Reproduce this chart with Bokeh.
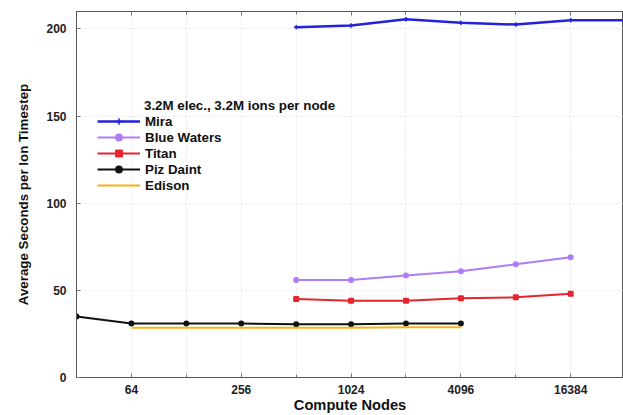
from bokeh.plotting import figure
from bokeh.models import (FixedTicker, LogAxis, Legend, LegendItem, Label, Range1d)
from bokeh.embed import file_html
from bokeh.resources import INLINE

# ---- data ----
mira_nodes = [512, 1024, 2048, 4096, 8192, 16384, 32768]
mira_secs = [201, 202, 205.5, 203.5, 202.5, 205, 205]
bw_nodes = [512, 1024, 2048, 4096, 8192, 16384]
bw_secs = [56, 56, 58.5, 61, 65, 69]
titan_nodes = [512, 1024, 2048, 4096, 8192, 16384]
titan_secs = [45, 44, 44, 45.5, 46, 48]
daint_nodes = [32, 64, 128, 256, 512, 1024, 2048, 4096]
daint_secs = [35, 31, 31, 31, 30.5, 30.5, 31, 31]
edison_nodes = [64, 128, 256, 512, 1024, 2048, 4096]
edison_secs = [28.5, 28.5, 28.5, 28.5, 28.5, 28.8, 28.8]

x_major = [64, 256, 1024, 4096, 16384]
x_minor = [32, 128, 512, 2048, 8192, 32768]
y_major = [0, 50, 100, 150, 200]

legend_title = "3.2M elec., 3.2M ions per node"
names = ["Mira", "Blue Waters", "Titan", "Piz Daint", "Edison"]
colors = ["#2222dd", "#b07cf5", "#e52530", "#111111", "#f2b418"]

FONT = "Liberation Sans"

p = figure(width=623, height=415, x_axis_type="log", output_backend="svg",
           toolbar_location=None, x_range=Range1d(32, 31900), y_range=Range1d(0, 210),
           min_border_left=76, min_border_right=0, min_border_top=11, min_border_bottom=38)
p.background_fill_color = "white"
p.outline_line_color = "#555555"

series = [(mira_nodes, mira_secs), (bw_nodes, bw_secs), (titan_nodes, titan_secs),
          (daint_nodes, daint_secs), (edison_nodes, edison_secs)]
markers = ["cross", "circle", "square", "circle", None]
widths = [2.5, 2, 2, 2, 2]
items = []
for (xs, ys), name, c, m, w in zip(series, names, colors, markers, widths):
    rs = [p.line(xs, ys, line_color=c, line_width=w)]
    if m is not None:
        rs.append(p.scatter(xs, ys, marker=m, size=4.5, color=c, line_width=1.5))
    items.append(LegendItem(label=name, renderers=rs))

# axes
xa = p.xaxis[0]
xa.ticker = FixedTicker(ticks=x_major, minor_ticks=x_minor)
xa.major_label_overrides = {v: str(v) for v in x_major}
xa.axis_label = "Compute Nodes"
ya = p.yaxis[0]
ya.ticker = FixedTicker(ticks=y_major, minor_ticks=[])
ya.axis_label = "Average Seconds per Ion Timestep"
for ax in (xa, ya):
    ax.major_tick_in = 4
    ax.major_tick_out = 0
    ax.minor_tick_in = 3
    ax.minor_tick_out = 0
    ax.axis_line_color = "#555555"
    ax.major_tick_line_color = "#777777"
    ax.minor_tick_line_color = "#777777"
    ax.major_label_text_font = FONT
    ax.major_label_text_font_style = "bold"
    ax.major_label_text_font_size = "9pt"
    ax.major_label_text_color = "#222222"
    ax.axis_label_text_font = FONT
    ax.axis_label_text_font_style = "bold"
    ax.axis_label_text_color = "#111111"
xa.axis_label_text_font_size = "11pt"
ya.axis_label_text_font_size = "10pt"
xa.major_label_standoff = 7
xa.axis_label_standoff = 0
ya.major_label_standoff = 10
ya.axis_label_standoff = 12

top = LogAxis(ticker=FixedTicker(ticks=x_major, minor_ticks=x_minor),
              major_label_overrides={v: "" for v in x_major},
              major_tick_in=4, major_tick_out=0,
              minor_tick_in=3, minor_tick_out=0, axis_line_color="#555555",
              major_tick_line_color="#777777", minor_tick_line_color="#777777")
p.add_layout(top, "above")

p.xgrid.ticker = FixedTicker(ticks=x_major + x_minor)
p.xgrid.grid_line_color = "#e8e8e8"
p.xgrid.grid_line_dash = "2 2"
p.ygrid.grid_line_color = "#e8e8e8"
p.ygrid.grid_line_dash = "2 2"

legend = Legend(items=items, location=(21, 184), padding=0, margin=0, spacing=0,
                glyph_width=43, glyph_height=16, label_height=16, label_standoff=5,
                background_fill_alpha=0, border_line_alpha=0,
                label_text_font=FONT, label_text_font_style="bold",
                label_text_font_size="10pt", label_text_color="#111111")
p.add_layout(legend, "center")

p.add_layout(Label(x=75, y=156.3, text=legend_title, text_font=FONT, text_font_style="bold",
                   text_font_size="10pt", text_color="#111111", text_baseline="middle"))

open("out.html", "w").write(file_html(p, INLINE))
